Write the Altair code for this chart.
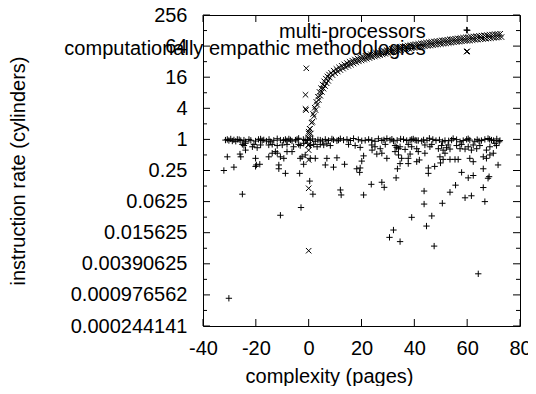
import altair as alt
import pandas as pd

FONT = "Liberation Sans"
series_names = ["multi-processors", "computationally empathic methodologies"]

# ---- series 1: multi-processors (+) ----
mp_x = [
    -30.8, -30.2, -29.5, -28.9, -28.3, -27.6, -27.0, -25.7, -24.5, -23.9, -22.6, -20.1, -18.2, -17.6, -17.0,
    -14.5, -13.2, -11.9, -10.7, -8.8, -8.2, -7.5, -6.9, -6.3, -4.4, -3.8, -1.3, 0.6, 2.5,
    -31.5, -26.3, -21.9, -19.0, -16.0, -15.0, -9.5, -5.0, -2.0, -0.5, 1.5, 3.5, 5.2,
    -25.1, -24.5, -23.9, -21.3, -20.7, -19.5, -18.2, -15.1, -13.8, -11.9, -10.0, -8.2, -5.7, -3.8, -3.2, -1.9, 0.6, 1.9,
    -26.0, -25.7, -23.9, -20.1, -15.1, -13.8, -12.6, -11.9, -10.7, -9.4, -8.2, -6.3, -3.2, -2.5, -1.3, 0.6, 2.5,
    -30.8, -32.1, -28.3, -20.1, -18.5, -19.8, -11.3, -11.3, -8.8, -3.4, -1.9, 0.4, 1.6, -25.1, -10.7, -2.9,
    4.4, 6.3, 7.5, 8.8, 9.4, 10.7, 12.0, 13.2, 14.5, 17.0, 20.1, 22.7, 23.9, 25.1, 26.4, 27.7, 29.6, 30.8,
    32.1, 35.9, 37.1, 38.4, 39.6, 40.9,
    11.3, 15.8, 18.8, 21.4, 28.5, 31.5, 33.5, 34.8,
    3.2, 4.4, 5.7, 6.9, 8.2, 15.1, 17.6, 19.5, 23.9, 25.1, 27.1, 29.0, 32.7, 33.3, 34.0, 34.6, 36.5, 37.7,
    39.0, 40.9,
    6.9, 10.7, 6.3, 9.4, 13.6, 18.2, 19.5, 19.3, 20.1, 20.8, 24.0, 25.8, 27.7, 29.6, 32.7, 34.0, 35.2, 37.7,
    37.7, 40.9, 41.5, 33.6, 33.1, 34.6,
    27.7, 28.6, 23.7, 20.8, 12.0, 12.3, 39.0, 32.1,
    39.0, 40.3, 41.5, 42.8, 45.7, 48.2, 50.7, 51.6, 54.1, 54.7, 57.3, 58.5, 59.8, 60.4, 61.0, 62.9, 65.4,
    66.7, 67.9, 69.2, 72.4, 72.1,
    43.5, 44.8, 47.0, 49.5, 53.0, 56.0, 63.8, 64.5, 68.5, 70.0, 71.2,
    44.0, 45.9, 46.6, 49.1, 50.3, 50.9, 52.2, 52.8, 53.5, 56.0, 57.3, 57.9, 59.2, 60.4, 61.6, 62.3, 63.6,
    64.8, 67.3, 68.6, 70.5, 71.1,
    38.4, 41.9, 44.0, 49.7, 51.6, 50.9, 53.5, 55.4, 56.6, 61.0, 62.3, 66.1, 67.3, 68.6, 69.9, 71.7, 49.9,
    45.3, 45.3, 47.7,
    57.9, 60.4, 62.3, 66.1, 66.1, 68.3, 67.9, 43.7, 43.7, 50.6, 53.5, 55.6, 59.2, 61.6, 66.7, 46.6, 44.6,
    -30.2, 64.2, 30.6, 34.6, 47.5, 59.8,
]
mp_y = [
    1.0, 0.95, 1.02, 0.93, 0.98, 0.92, 1.0, 0.95, 0.97, 0.9, 1.0, 0.93, 1.02, 0.95, 0.98,
    0.9, 0.96, 1.03, 0.97, 1.0, 0.94, 1.02, 0.98, 0.93, 1.0, 1.05, 0.95, 0.97, 0.92,
    0.97, 0.99, 0.96, 1.0, 0.93, 1.0, 0.96, 0.97, 1.0, 0.98, 1.02, 0.98, 0.93,
    0.80, 0.76, 0.84, 0.72, 0.80, 0.69, 0.78, 0.78, 0.80, 0.76, 0.78, 0.80, 0.72, 0.80, 0.76, 0.84, 0.76, 0.80,
    0.52, 0.46, 0.62, 0.43, 0.46, 0.54, 0.58, 0.54, 0.46, 0.43, 0.58, 0.58, 0.43, 0.46, 0.50, 0.43, 0.43,
    0.46, 0.25, 0.29, 0.30, 0.33, 0.32, 0.32, 0.27, 0.22, 0.22, 0.33, 0.156, 0.087, 0.087, 0.034, 0.048,
    0.97, 1.0, 0.95, 1.02, 0.98, 0.94, 1.03, 0.97, 1.0, 1.04, 0.94, 1.0, 0.96, 0.92, 1.03, 0.95, 1.04, 0.97,
    0.93, 1.0, 0.95, 0.97, 1.02, 0.95,
    0.97, 0.95, 0.99, 0.96, 0.98, 1.01, 0.96, 1.02,
    0.72, 0.80, 0.78, 0.82, 0.76, 0.80, 0.76, 0.70, 0.78, 0.72, 0.66, 0.80, 0.76, 0.70, 0.66, 0.72, 0.64, 0.80,
    0.72, 0.66,
    0.43, 0.44, 0.32, 0.29, 0.33, 0.27, 0.28, 0.23, 0.38, 0.48, 0.62, 0.52, 0.54, 0.43, 0.58, 0.50, 0.43, 0.43,
    0.34, 0.37, 0.58, 0.27, 0.18, 0.34,
    0.148, 0.118, 0.135, 0.084, 0.105, 0.084, 0.031, 0.0176,
    1.0, 0.97, 0.95, 0.93, 1.05, 0.95, 0.9, 0.95, 0.97, 1.04, 0.9, 0.95, 1.0, 1.03, 0.97, 0.92, 0.95,
    1.0, 1.04, 0.97, 0.95, 0.9,
    0.98, 0.96, 1.0, 0.98, 0.94, 0.99, 0.99, 0.93, 1.0, 0.95, 1.02,
    0.78, 0.72, 0.80, 0.66, 0.76, 0.62, 0.69, 0.78, 0.65, 0.76, 0.66, 0.80, 0.65, 0.72, 0.62, 0.78, 0.66,
    0.76, 0.62, 0.72, 0.84, 0.76,
    0.52, 0.40, 0.54, 0.46, 0.54, 0.41, 0.41, 0.41, 0.41, 0.43, 0.37, 0.46, 0.43, 0.50, 0.54, 0.32, 0.35,
    0.28, 0.22, 0.30,
    0.23, 0.18, 0.20, 0.27, 0.117, 0.19, 0.177, 0.10, 0.056, 0.058, 0.095, 0.13, 0.074, 0.081, 0.0625, 0.033, 0.021,
    0.00084, 0.0025, 0.0127, 0.0105, 0.0086, 131,
]

# ---- series 2: computationally empathic methodologies (x) ----
cem_x = [
    -0.9, -1.2, -1.2, -1.0, 0.0, 0.0, 0.0, 0.0, 0.0, 0.0, -0.2, -0.6, -0.3, 0.0, 0.4, 59.8,
    0.2, 0.5, 0.8, 1.1, 1.4, 1.7, 2.0, 2.3, 2.6, 2.9, 3.2, 3.5, 3.8, 4.1, 4.4, 4.7, 5.0, 5.3, 5.6,
    5.9, 6.2, 6.5, 6.8, 7.1, 7.4, 7.7,
    8.0, 8.5, 9.0, 9.5, 10, 10.5, 11, 11.5, 12, 12.5, 13, 13.5, 14, 14.5, 15, 15.5, 16, 16.5, 17, 17.5,
    18, 18.5, 19, 19.5, 20, 20.5, 21, 21.5, 22, 22.5, 23, 23.5, 24, 24.5, 25, 25.5, 26, 26.5, 27, 27.5,
    28, 28.5, 29, 29.5, 30, 30.5, 31, 31.5, 32, 32.5, 33, 33.5, 34, 34.5, 35, 35.5, 36, 36.5, 37, 37.5,
    38, 38.5, 39, 39.5, 40, 40.5, 41, 41.5, 42, 42.5, 43, 43.5, 44, 44.5, 45, 45.5, 46, 46.5, 47, 47.5,
    48, 48.5, 49, 49.5, 50, 50.5, 51, 51.5, 52, 52.5, 53, 53.5, 54, 54.5, 55, 55.5, 56, 56.5, 57, 57.5,
    58, 58.5, 59, 59.5, 60, 60.5, 61, 61.5, 62, 62.5, 63, 63.5, 64, 64.5, 65, 65.5, 66, 66.5, 67, 67.5,
    68, 68.5, 69, 69.5, 70, 70.5, 71, 71.5, 72, 72.5, 73,
]
cem_y = [
    23.8, 7.3, 3.9, 3.7, 1.41, 0.78, 0.40, 0.62, 0.113, 0.0070, 0.78, 0.9, 1.05, 1.3, 1.6, 50,
    1.05, 1.6, 1.3, 2.1, 2.2, 3.1, 2.8, 4.1, 3.7, 5.3, 4.7, 6.7, 5.8, 8.3, 7.0, 9.8, 8.3, 11.5, 9.6,
    13.3, 10.8, 15, 12.2, 16.5, 13.6, 18,
    15.7, 19.4, 17.6, 21.4, 19.1, 23.1, 20.6, 24.8, 22.0, 26.6, 23.5, 28.3, 25.0, 30.0, 26.5, 31.8, 28.0, 33.5, 29.4, 35.2,
    30.9, 36.9, 32.4, 38.6, 33.7, 40.1, 35.0, 41.6, 36.3, 43.1, 37.6, 44.6, 38.9, 46.1, 40.2, 47.6, 41.5, 49.1, 42.8, 50.7,
    44.1, 52.2, 45.4, 53.7, 46.7, 55.2, 48.0, 56.7, 49.3, 58.2, 50.6, 59.7, 51.9, 61.2, 53.1, 62.7, 54.4, 64.3, 55.7, 65.7,
    56.9, 67.0, 58.0, 68.3, 59.1, 69.6, 60.2, 70.8, 61.3, 72.1, 62.4, 73.4, 63.5, 74.7, 64.6, 76.0, 65.7, 77.3, 66.9, 78.6,
    68.0, 79.9, 69.1, 81.2, 70.2, 82.5, 71.3, 83.8, 72.4, 85.1, 73.5, 86.4, 74.6, 87.7, 75.7, 89.0, 76.9, 90.3, 78.0, 91.6,
    79.1, 92.9, 80.2, 94.2, 81.3, 95.5, 82.4, 96.8, 83.5, 98.1, 84.6, 99.4, 85.7, 100.7, 86.9, 102.0, 88.0, 103.2, 89.1, 104.5,
    90.2, 105.8, 91.3, 107.1, 92.4, 108.4, 93.5, 109.7, 94.6, 111.0, 95.7,
]

x_ticks = [-40, -20, 0, 20, 40, 60, 80]
y_tick_labels = ["0.000244141", "0.000976562", "0.00390625", "0.015625", "0.0625",
                 "0.25", "1", "4", "16", "64", "256"]
y_major = [2.0 ** k for k in range(-12, 9, 2)]
y_minor = [2.0 ** k for k in range(-11, 8, 2)]

assert len(mp_x) == len(mp_y), (len(mp_x), len(mp_y))
assert len(cem_x) == len(cem_y), (len(cem_x), len(cem_y))

PLUS = "M-1,0L1,0M0,-1L0,1"
CROSS = "M-1,-1L1,1M-1,1L1,-1"

W, H = 317, 311

mp_df = pd.DataFrame({"complexity": mp_x, "rate": mp_y})
cem_df = pd.DataFrame({"complexity": cem_x, "rate": cem_y})

xs = alt.Scale(domain=[-40, 80], nice=False, zero=False)
ys = alt.Scale(type="log", base=2, domain=[2.0 ** -12, 2.0 ** 8], nice=False)

label_arr = "[" + ",".join("'%s'" % s for s in y_tick_labels) + "]"

x_axis = alt.Axis(
    values=x_ticks, ticks=False, domain=False, grid=False,
    labelFont=FONT, labelFontSize=20, labelColor="black", labelPadding=12,
    labelFlush=False, labelOverlap=False,
    labelExpr="datum.value < 0 ? '-' + abs(datum.value) : '' + datum.value",
    title="complexity (pages)", titleFont=FONT, titleFontSize=20, titleFontWeight="normal",
    titleColor="black", titleX=126, titleY=56.5, titleBaseline="alphabetic", titleAlign="center",
)
y_axis = alt.Axis(
    values=y_major, ticks=False, domain=False, grid=False,
    labelFont=FONT, labelFontSize=20, labelColor="black", labelPadding=16,
    labelFlush=False, labelOverlap=False, labelBaseline="middle",
    labelExpr=label_arr + "[round(log(datum.value)/log(2)/2) + 6]",
    title="instruction rate (cylinders)", titleFont=FONT, titleFontSize=20, titleFontWeight="normal",
    titleColor="black", titleAngle=270, titleX=-185, titleY=155.5, titleBaseline="middle", titleAlign="center",
)

X = lambda: alt.X("complexity:Q", scale=xs, axis=x_axis)
Y = lambda: alt.Y("rate:Q", scale=ys, axis=y_axis)

# legend text (drawn under the points, as in the reference)
leg1 = alt.Chart(pd.DataFrame({"series": [series_names[0]]})).mark_text(
    align="right", baseline="alphabetic", font=FONT, fontSize=20, color="black"
).encode(text="series:N", x=alt.value(222.7), y=alt.value(23))
leg2 = alt.Chart(pd.DataFrame({"series": [series_names[1]]})).mark_text(
    align="right", baseline="alphabetic", font=FONT, fontSize=20, color="black"
).encode(text="series:N", x=alt.value(222.7), y=alt.value(40.3))
sym1 = alt.Chart(pd.DataFrame({"series": [series_names[0]]})).mark_point(
    shape=PLUS, size=40, filled=False, color="black", strokeWidth=1, opacity=1
).encode(x=alt.value(264.3), y=alt.value(15.3))
sym2 = alt.Chart(pd.DataFrame({"series": [series_names[1]]})).mark_point(
    shape=CROSS, size=30, filled=False, color="black", strokeWidth=1, opacity=1
).encode(x=alt.value(264.3), y=alt.value(36.3))

mp_layer = alt.Chart(mp_df).mark_point(
    shape=PLUS, size=40, filled=False, color="black", strokeWidth=1, opacity=1
).encode(x=X(), y=Y())
cem_layer = alt.Chart(cem_df).mark_point(
    shape=CROSS, size=30, filled=False, color="black", strokeWidth=1, opacity=1
).encode(x=X(), y=Y())

ymaj_df = pd.DataFrame({"rate": y_major})
ymin_df = pd.DataFrame({"rate": y_minor})
xt_df = pd.DataFrame({"complexity": x_ticks})

def yrule(df, x0, x1):
    return alt.Chart(df).mark_rule(color="black", strokeWidth=1).encode(
        y=Y(), x=alt.value(x0), x2=alt.value(x1))

def xrule(y0, y1):
    return alt.Chart(xt_df).mark_rule(color="black", strokeWidth=1).encode(
        x=X(), y=alt.value(y0), y2=alt.value(y1))

ticks = [
    yrule(ymaj_df, 0, 7), yrule(ymin_df, 0, 4),
    yrule(ymaj_df, W, W - 7), yrule(ymin_df, W, W - 4),
    xrule(H, H - 7), xrule(0, 7),
]

chart = alt.layer(
    mp_layer, cem_layer, leg1, leg2, *ticks, sym1, sym2
).properties(
    width=W, height=H,
    autosize=alt.AutoSizeParams(type="none"),
    padding={"left": 195, "top": 7, "right": 8, "bottom": 60},
    background="white",
).configure_view(stroke="black", strokeWidth=1)

chart.save("out.html", embed_options={"renderer": "svg", "actions": False})
